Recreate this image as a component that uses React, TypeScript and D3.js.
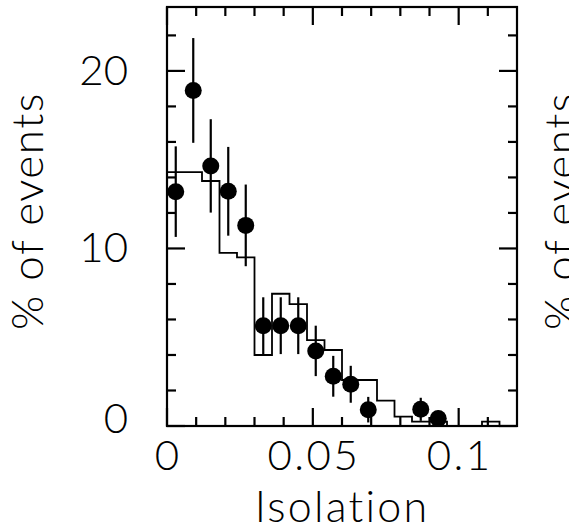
import React from "react";
import * as d3 from "d3";

const binEdges = [0, 0.006, 0.012, 0.018, 0.024, 0.03, 0.036, 0.042, 0.048, 0.054, 0.06, 0.066, 0.072, 0.078, 0.084, 0.09, 0.096, 0.102, 0.108, 0.114, 0.12];
const binValues = [14.3, 14.3, 13.8, 9.75, 9.5, 4.0, 7.45, 6.87, 4.84, 4.28, 2.59, 2.59, 1.43, 0.53, 0.25, 0.25, 0, 0, 0.25, 0];

const pointX = [0.003, 0.009, 0.015, 0.021, 0.027, 0.033, 0.039, 0.045, 0.051, 0.057, 0.063, 0.069, 0.087, 0.093];
const pointY = [13.2, 18.9, 14.65, 13.22, 11.3, 5.65, 5.65, 5.65, 4.23, 2.8, 2.35, 0.92, 0.94, 0.42];
const pointErr = [2.55, 2.95, 2.63, 2.5, 2.3, 1.6, 1.6, 1.6, 1.42, 1.15, 1.04, 0.72, 0.65, 0.45];

const xMajor = [0, 0.05, 0.1];
const xMajorLabels = ["0", "0.05", "0.1"];
const xMinor = [0.01, 0.02, 0.03, 0.04, 0.06, 0.07, 0.08, 0.09, 0.11];
const yMajor = [0, 10, 20];
const yMajorLabels = ["0", "10", "20"];
const yMinor = [2, 4, 6, 8, 12, 14, 16, 18, 22];

const xTitle = "Isolation";
const yTitle = "% of events";

const W = 569;
const H = 531;
const L = 167, R = 517, T = 7, B = 426;

export default function App() {
  const x = d3.scaleLinear().domain([0, 0.12]).range([L, R]);
  const y = d3.scaleLinear().domain([0, 23.6]).range([B, T]);

  const stepPts: [number, number][] = [[binEdges[0], 0]];
  binValues.forEach((v, i) => {
    stepPts.push([binEdges[i], v]);
    stepPts.push([binEdges[i + 1], v]);
  });
  stepPts.push([binEdges[binEdges.length - 1], 0]);
  const line = d3.line<[number, number]>().x((d) => x(d[0])).y((d) => y(d[1]));

  const font = "Lato, 'DejaVu Sans', sans-serif";
  const majLen = 18, minLen = 9;

  return (
    <svg width={W} height={H} style={{ position: "absolute", left: 0, top: 0, background: "#fff" }}>
      <rect x={0} y={0} width={W} height={H} fill="#fff" />
      <path d={line(stepPts) || ""} fill="none" stroke="#000" strokeWidth={1.8} />
      {pointX.map((px, i) => (
        <g key={i}>
          <line x1={x(px)} x2={x(px)} y1={y(pointY[i] - pointErr[i])} y2={y(pointY[i] + pointErr[i])} stroke="#000" strokeWidth={2.2} />
          <circle cx={x(px)} cy={y(pointY[i])} r={8.5} fill="#000" />
        </g>
      ))}
      <rect x={L} y={T} width={R - L} height={B - T} fill="none" stroke="#000" strokeWidth={2.2} />
      {xMajor.concat(xMinor).map((v, i) => {
        const len = i < xMajor.length ? majLen : minLen;
        return (
          <g key={"xt" + i}>
            <line x1={x(v)} x2={x(v)} y1={B} y2={B - len} stroke="#000" strokeWidth={2.2} />
            <line x1={x(v)} x2={x(v)} y1={T} y2={T + len} stroke="#000" strokeWidth={2.2} />
          </g>
        );
      })}
      {yMajor.concat(yMinor).map((v, i) => {
        const len = i < yMajor.length ? majLen : minLen;
        return (
          <g key={"yt" + i}>
            <line x1={L} x2={L + len} y1={y(v)} y2={y(v)} stroke="#000" strokeWidth={2.2} />
            <line x1={R} x2={R - len} y1={y(v)} y2={y(v)} stroke="#000" strokeWidth={2.2} />
          </g>
        );
      })}
      {xMajor.map((v, i) => (
        <text key={"xl" + i} x={x(v) + (xMajorLabels[i].length > 1 ? 1 : 0)} y={470} textAnchor="middle" fontFamily={font} fontWeight={300} fontSize={42} letterSpacing={xMajorLabels[i].length > 1 ? 2.5 : 0} fill="#000">
          {xMajorLabels[i]}
        </text>
      ))}
      {yMajor.map((v, i) => (
        <text key={"yl" + i} x={128} y={y(v) + 14 - (v === 0 ? 7 : 0)} textAnchor="end" fontFamily={font} fontWeight={300} fontSize={42} fill="#000">
          {yMajorLabels[i]}
        </text>
      ))}
      <text x={342} y={522} textAnchor="middle" fontFamily={font} fontWeight={300} fontSize={43} letterSpacing={2.2} fill="#000">
        {xTitle}
      </text>
      <text transform={`translate(43,211) rotate(-90)`} textAnchor="middle" fontFamily={font} fontWeight={300} fontSize={44} letterSpacing={1.5} fill="#000">
        {yTitle}
      </text>
      <text transform={`translate(576,211) rotate(-90)`} textAnchor="middle" fontFamily={font} fontWeight={300} fontSize={44} letterSpacing={1.5} fill="#000">
        {yTitle}
      </text>
    </svg>
  );
}
